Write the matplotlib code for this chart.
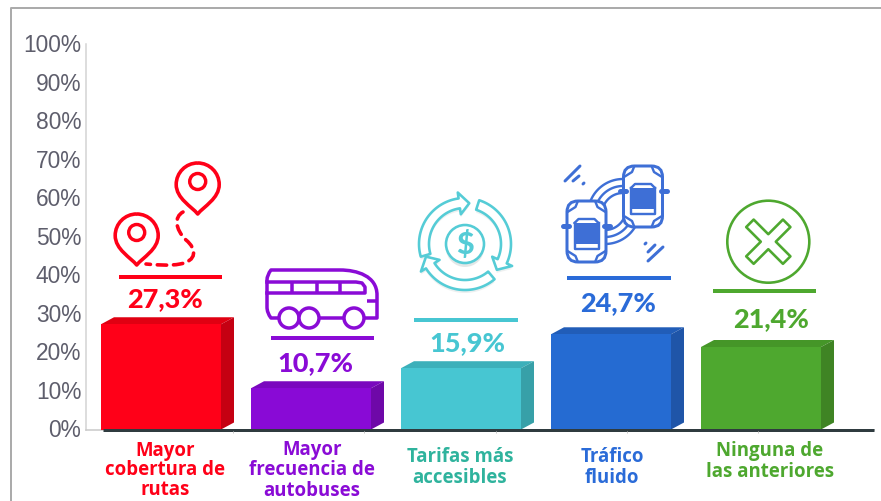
import matplotlib
matplotlib.use('Agg')
import matplotlib.pyplot as plt
import numpy as np
from matplotlib.patches import Circle, FancyBboxPatch, PathPatch, Polygon
from matplotlib.path import Path
from matplotlib.transforms import ScaledTranslation

categorias = ['Mayor\ncobertura de\nrutas', 'Mayor\nfrecuencia de\nautobuses',
              'Tarifas más\naccesibles', 'Tráfico\nfluido', 'Ninguna de\nlas anteriores']
valores = [27.3, 10.7, 15.9, 24.7, 21.4]
ticks_y = [0, 10, 20, 30, 40, 50, 60, 70, 80, 90, 100]

col_frente = ['#FF0018', '#890AD6', '#47C6D2', '#256BD2', '#4EA82F']
col_arriba = ['#E00012', '#7A08BE', '#3CB0BA', '#215DB8', '#459628']
col_lado = ['#C50012', '#6E08A8', '#37A0A8', '#1F55A8', '#3F8424']
col_valor = ['#FF0018', '#8A0BD6', '#47C6D2', '#2A6BD8', '#4EA82F']
col_cat = ['#FF0018', '#8A0BD6', '#2FB39D', '#2A6BD8', '#4EA82F']
AZUL = '#3E6FD6'
TEAL = '#55CCD6'

W, H = 881, 502


def lw(px):
    return px * 0.72


fig = plt.figure(figsize=(W / 100, H / 100), dpi=100)
ax = fig.add_axes([86 / W, (H - 430.5) / H, 788 / W, 385.5 / H])
ax.set_xlim(-0.5, -0.5 + 788 / 150)
ax.set_ylim(0, 100)

# barras con efecto 3D
dx = 13 / 150
dy = 7 / 3.855
ancho = 120 / 150
x = np.arange(len(valores))
ax.bar(x, valores, width=ancho, color=col_frente, zorder=3)
for i, v in enumerate(valores):
    der = i + ancho / 2
    izq = i - ancho / 2
    ax.fill([izq, izq + dx, der + dx, der], [v, v + dy, v + dy, v], color=col_arriba[i], lw=0, zorder=2)
    ax.fill([der, der + dx, der + dx, der], [0, dy, v + dy, v], color=col_lado[i], lw=0, zorder=2)

# valores encima de cada barra
desp_x = [4, 4, 6, 7, 10]
desp_y = [26, 26, 26, 32, 29]
for i, v in enumerate(valores):
    ax.annotate(f'{v:.1f}%'.replace('.', ','), xy=(i, v), xytext=(desp_x[i], desp_y[i]),
                textcoords='offset pixels', ha='center', va='center', color=col_valor[i],
                fontsize=19.5, fontweight='black', family='Lato')

ax.set_yticks(ticks_y)
ax.set_yticklabels([f'{t}%' for t in ticks_y], fontsize=16.4, color='#5E5E6C', family='Liberation Sans')
ax.tick_params(axis='y', length=0, pad=3.5)
for l in ax.get_yticklabels():
    l.set_transform(l.get_transform() + ScaledTranslation(0, 2 / 100, fig.dpi_scale_trans))
ax.set_xticks([])
for s in ['top', 'right']:
    ax.spines[s].set_visible(False)
ax.spines['left'].set_color('#D2D2D2')
ax.spines['left'].set_linewidth(lw(1.5))
ax.spines['bottom'].set_color('#C8C8C8')
ax.spines['bottom'].set_linewidth(lw(1.5))

# capa en pixeles para marco, lineas e iconos
p = fig.add_axes([0, 0, 1, 1])
p.set_xlim(0, W)
p.set_ylim(H, 0)
p.axis('off')

# marco y restos del titulo cortado
p.plot([11, 11, W], [H, 9, 9], color='#ABABAB', lw=lw(2), solid_capstyle='butt')
for a, b in [(33, 38), (329, 332), (495, 500)]:
    p.plot([a, b], [0.3, 0.3], color='black', lw=lw(2), solid_capstyle='butt')

# linea base
p.plot([103, 874], [431, 431], color='#2F3B3F', lw=lw(3), solid_capstyle='butt')
p.vlines([233, 364, 496, 627, 758], 432, 434, color='#C8C8C8', lw=lw(1))

# separadores
sep_x = [(118.5, 222), (271, 374), (414, 518), (567, 671), (713, 816)]
sep_y = [277.5, 339, 320.5, 279, 292]
for i in range(5):
    p.plot(sep_x[i], [sep_y[i], sep_y[i]], color=col_valor[i], lw=lw(4), solid_capstyle='butt')

# etiquetas de categoria, linea por linea
cat_x = [165, 312, 460, 612, 770]
cat_y = [456, 455, 462, 462, 456]
cat_paso = [19.5, 20.5, 21, 21, 21]
for i, c in enumerate(categorias):
    for j, linea in enumerate(c.split('\n')):
        p.text(cat_x[i], cat_y[i] + cat_paso[i] * j, linea, ha='center', va='baseline', color=col_cat[i],
               fontsize=13.4, fontweight='bold', family='Open Sans')


# icono: pin
def pin(cx, top, color):
    r = 21.5
    alto = 51
    cy = top + r
    k = r * 0.552
    verts = [(cx, cy - r),
             (cx + k, cy - r), (cx + r, cy - k), (cx + r, cy),
             (cx + r, cy + 14), (cx + 6, cy + 22), (cx, top + alto),
             (cx - 6, cy + 22), (cx - r, cy + 14), (cx - r, cy),
             (cx - r, cy - k), (cx - k, cy - r), (cx, cy - r)]
    codes = [Path.MOVETO] + [Path.CURVE4] * 12
    p.add_patch(PathPatch(Path(verts, codes), fc='none', ec=color, lw=lw(3.6), joinstyle='round'))
    p.add_patch(Circle((cx, cy - 3), 8, fc='none', ec=color, lw=lw(3.4)))


pin(197.7, 164, col_valor[0])
pin(136.7, 215, col_valor[0])
ruta = [(183, 213), (174, 218), (175, 230), (186, 241), (197, 250), (197, 262), (180, 265),
        (170, 267), (158, 266), (146, 265)]
p.add_patch(PathPatch(Path(ruta, [Path.MOVETO] + [Path.CURVE4] * 9), fc='none', ec=col_valor[0],
                      lw=lw(3.6), linestyle=(0, (2.6, 1.9)), capstyle='round'))

# icono: autobus
m = col_valor[1]
cuerpo = [(280, 319), (271, 319), (267, 314), (267, 308), (267, 281), (267, 276), (271, 271),
          (279, 271), (340, 271), (357, 271), (377, 277), (377, 296), (377, 319), (280, 319)]
cod = [Path.MOVETO, Path.LINETO, Path.CURVE3, Path.CURVE3, Path.LINETO, Path.CURVE3, Path.CURVE3,
       Path.LINETO, Path.LINETO, Path.CURVE4, Path.CURVE4, Path.CURVE4, Path.LINETO, Path.LINETO]
p.add_patch(PathPatch(Path(cuerpo, cod), fc='none', ec=m, lw=lw(3.5), joinstyle='round'))
p.plot([267, 356, 362, 365, 365, 267], [283, 283, 284, 288, 294, 294], color=m, lw=lw(3.5))
p.vlines([292, 317, 340], 283, 294, color=m, lw=lw(3.5))
p.plot([367, 377], [302, 302], color=m, lw=lw(3.5), solid_capstyle='butt')
for cx in [289, 309, 354]:
    p.add_patch(Circle((cx, 319), 10, fc='white', ec=m, lw=lw(3.5), zorder=3))

# icono: tarifas
cx, cy = 465, 245
for a0, a1 in [(196, 98), (72, -25), (-50, -148)]:
    ang = np.radians(np.linspace(a0, a1, 40))
    r_out, r_in = 46, 36
    fin = np.radians(a1)
    tip = np.radians(a1 - 14)
    xs = list(cx + r_out * np.cos(ang)) + [cx + 52 * np.cos(fin), cx + 41 * np.cos(tip), cx + 30 * np.cos(fin)]
    xs += list(cx + r_in * np.cos(ang[::-1]))
    ys = list(cy - r_out * np.sin(ang)) + [cy - 52 * np.sin(fin), cy - 41 * np.sin(tip), cy - 30 * np.sin(fin)]
    ys += list(cy - r_in * np.sin(ang[::-1]))
    # sombra suave debajo de la flecha
    p.add_patch(Polygon(np.column_stack([xs, np.array(ys) + 3]), closed=True, fc='#E6EAEA', ec='none', alpha=0.7))
    p.add_patch(Polygon(np.column_stack([xs, ys]), closed=True, fc='white', ec=TEAL, lw=lw(2.6),
                        joinstyle='round'))
p.add_patch(Circle((cx, cy + 4), 19, fc='#DDE2E2', ec='none', alpha=0.8))
p.add_patch(Circle((cx, cy), 19, fc='white', ec=TEAL, lw=lw(2.6)))
p.text(cx, cy, '$', ha='center', va='center', color=TEAL, fontsize=22, fontweight='black', family='Lato')

# icono: trafico
for c, ang0, ang1 in [((623, 215), 90, 180), ((605, 210), -90, 0)]:
    for r in [35, 28, 21]:
        a = np.radians(np.linspace(ang0, ang1, 30))
        p.plot(c[0] + r * np.cos(a), c[1] - r * np.sin(a), color=AZUL, lw=lw(2.4))


def carro(x0, y0):
    # x0, y0: esquina superior izquierda
    w, h = 39, 61
    p.add_patch(FancyBboxPatch((x0 + 9, y0 + 9), w - 18, h - 18, boxstyle='round,pad=9,rounding_size=11',
                               fc='white', ec=AZUL, lw=lw(3), zorder=3))
    xc = x0 + w / 2
    p.plot([x0 - 4, x0 + 2], [y0 + 25, y0 + 25], color=AZUL, lw=lw(5), solid_capstyle='round', zorder=4)
    p.plot([x0 + w - 2, x0 + w + 4], [y0 + 25, y0 + 25], color=AZUL, lw=lw(5), solid_capstyle='round', zorder=4)
    p.plot([xc - 12, xc - 8, xc + 8, xc + 12], [y0 + 22, y0 + 18, y0 + 18, y0 + 22], color=AZUL, lw=lw(2.4), zorder=4)
    p.add_patch(FancyBboxPatch((xc - 11.5, y0 + 22), 23, 21, boxstyle='square,pad=0', fc=AZUL, ec='none', zorder=4))
    p.plot([xc - 12, xc - 12, xc + 12, xc + 12], [y0 + 22, y0 + 48, y0 + 48, y0 + 22], color=AZUL, lw=lw(2.4), zorder=4)
    for sx in [-1, 1]:
        p.plot([xc + sx * 19, xc + sx * 11, xc + sx * 9], [y0 + 11, y0 + 6, y0 + 1], color=AZUL, lw=lw(2.4), zorder=4)
        p.plot([xc + sx * 19, xc + sx * 11, xc + sx * 9], [y0 + 50, y0 + 55, y0 + 60], color=AZUL, lw=lw(2.4), zorder=4)


carro(567, 202)
carro(623.5, 167)
for a, b in [((565, 182), (580, 167)), ((573, 182), (579, 177)), ((583, 185), (584, 184)),
             ((648, 262), (663, 248)), ((648, 253), (655, 246)), ((645, 245), (646, 244))]:
    p.plot([a[0], b[0]], [a[1], b[1]], color=AZUL, lw=lw(3), solid_capstyle='round')

# icono: ninguna
v = col_valor[4]
cx, cy = 768.3, 242.7
p.add_patch(Circle((cx, cy), 41, fc='none', ec=v, lw=lw(2.6)))
brazo = 26
med = 5.3
cruz = []
for k in range(4):
    th = np.radians(45 + 90 * k)
    d = np.array([np.cos(th), np.sin(th)])
    n = np.array([-d[1], d[0]])
    cruz += [d * brazo - n * med, d * brazo + n * med, d * med + n * med]
p.add_patch(Polygon(np.array(cruz) + [cx, cy], closed=True, fc='none', ec=v, lw=lw(2.6), joinstyle='round'))

fig.savefig('out.png', dpi=100)
